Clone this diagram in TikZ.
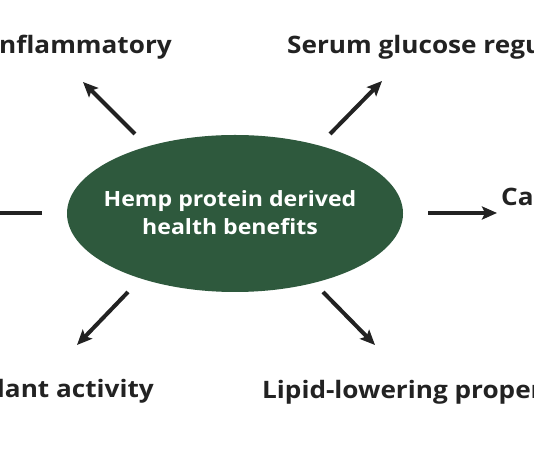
\documentclass[tikz,border=0pt]{standalone}
\usepackage{fontspec}
\setmainfont{Open Sans}[FakeStretch=1.09]
\usetikzlibrary{arrows.meta,shapes.geometric}
\definecolor{hubgreen}{RGB}{46,89,61}
\definecolor{ink}{RGB}{34,34,34}
\tikzset{
  hub/.style={ellipse, fill=hubgreen, draw=none, inner sep=0pt,
    minimum width=336pt, minimum height=157pt},
  hubtext/.style={inner sep=0pt, text=white, align=center,
    font=\fontsize{21}{28}\selectfont\bfseries\addfontfeature{FakeStretch=1.1}},
  lbl/.style={inner sep=0pt, text=ink, font=\fontsize{24}{28}\selectfont\bfseries},
  arr/.style={ink, line width=4pt, -{Stealth[length=15pt,width=13pt,inset=3pt]}},
  bar/.style={ink, line width=4pt}
}
\begin{document}
\begin{tikzpicture}[x=1pt,y=1pt]
\useasboundingbox (0,0) rectangle (534,462);
\clip (0,0) rectangle (534,462);
\fill[white] (0,0) rectangle (534,462);
\node[hub] (hub) at (235,248.5) {};
\node[hubtext] (hubt) at (230,249) {Hemp protein derived\\health benefits};
% labels
\node[lbl, anchor=base west] (inf) at (-1,408.5) {nflammatory};
\node[lbl, anchor=base west] (glu) at (287,408) {Serum glucose regu};
\node[lbl, anchor=base west] (ca) at (501,256) {Ca};
\node[lbl, anchor=base east] (aox) at (154,64) {lant activity};
\node[lbl, anchor=base west] (lip) at (262,63) {Lipid-lowering proper};
% arrow ends
\coordinate (ulA) at (135,328); \coordinate (ulB) at (83,380);
\coordinate (urA) at (330,328); \coordinate (urB) at (382,381);
\coordinate (rA) at (428,249);  \coordinate (rB) at (497,249);
\coordinate (lA) at (42,249);   \coordinate (lB) at (0,249);
\coordinate (llA) at (128,170); \coordinate (llB) at (77,117);
\coordinate (lrA) at (323,170); \coordinate (lrB) at (375,117);
\draw[arr] (ulA) -- (ulB);
\draw[arr] (urA) -- (urB);
\draw[arr] (rA) -- (rB);
\draw[bar] (lA) -- (lB);
\draw[arr] (llA) -- (llB);
\draw[arr] (lrA) -- (lrB);
\end{tikzpicture}
\end{document}
